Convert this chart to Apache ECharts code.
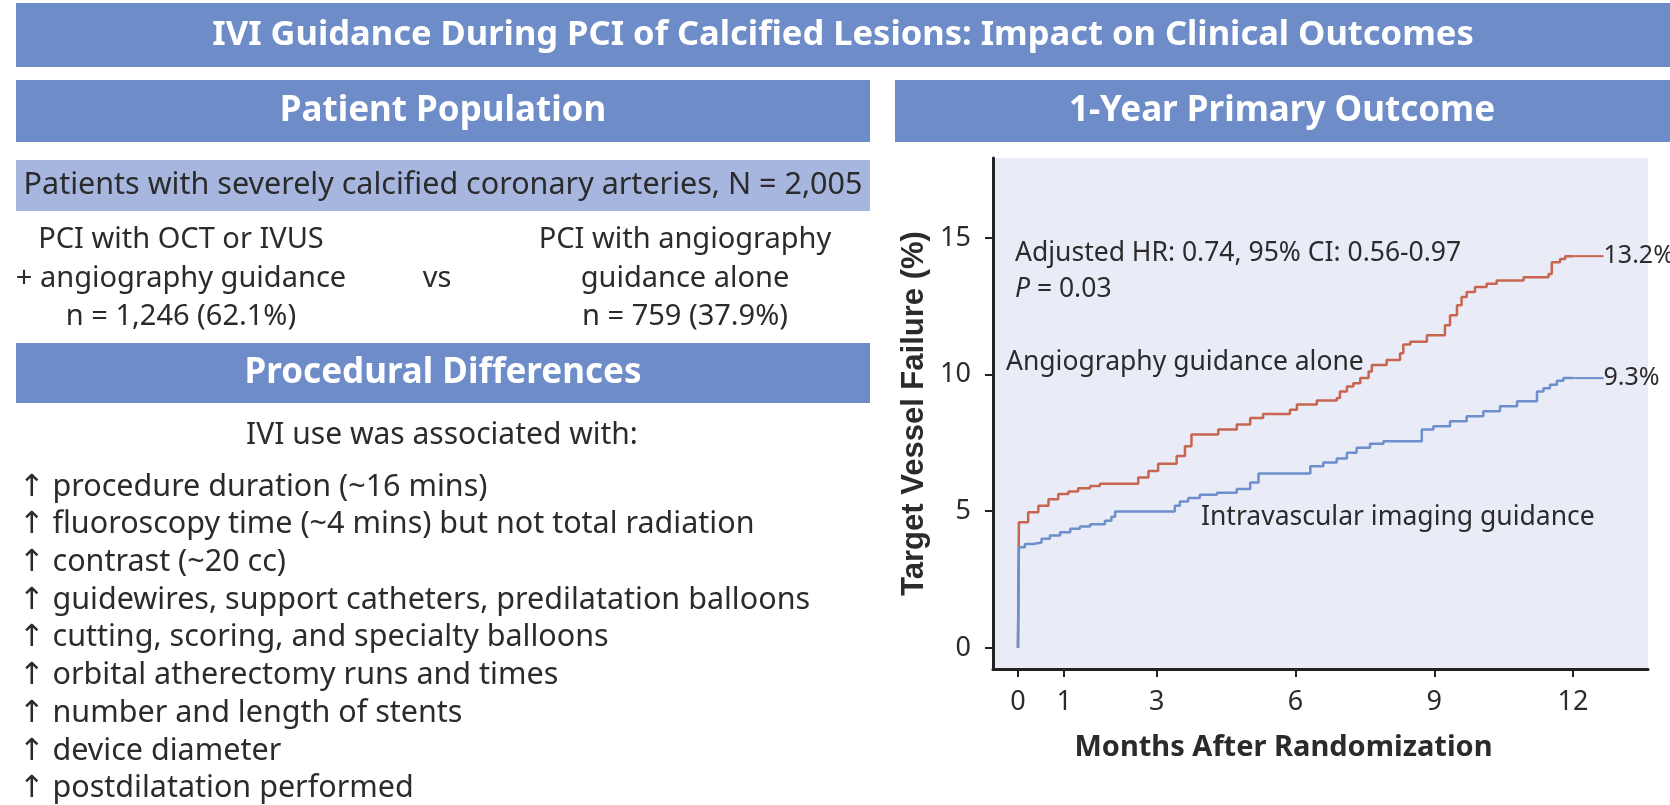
<!DOCTYPE html>
<html>
<head>
<meta charset="utf-8">
<title>IVI Guidance During PCI of Calcified Lesions</title>
<script src="https://cdn.jsdelivr.net/npm/echarts@6/dist/echarts.min.js"></script>
<style>
  html, body { margin: 0; padding: 0; background: #fff; }
  #main { width: 1670px; height: 805px; }
</style>
</head>
<body>
<div id="main"></div>
<script>
// ---- data ----
const monthTicks = [0, 1, 3, 6, 9, 12]
const failTicks = [0, 5, 10, 15]

// angiography guidance alone [month, % failure]
const angioData = [
  [0, 0], [0.02, 4.6], [0.22, 4.96], [0.44, 5.2], [0.66, 5.44], [0.87, 5.63],
  [1.09, 5.72], [1.3, 5.84], [1.56, 5.92], [1.77, 6.01], [2.6, 6.23], [2.82, 6.47],
  [3.03, 6.74], [3.43, 7.02], [3.61, 7.38], [3.75, 7.81], [4.33, 7.99], [4.73, 8.17],
  [5.02, 8.41], [5.3, 8.56], [5.88, 8.71], [6.03, 8.9], [6.46, 9.05], [6.89, 9.14],
  [6.96, 9.38], [7.11, 9.56], [7.25, 9.68], [7.4, 9.87], [7.58, 10.11], [7.65, 10.35],
  [7.97, 10.53], [8.26, 10.78], [8.33, 11.1], [8.48, 11.2], [8.84, 11.44], [9.23, 11.8],
  [9.34, 12.17], [9.49, 12.53], [9.59, 12.84], [9.7, 13.02], [9.88, 13.2], [10.13, 13.32],
  [10.35, 13.44], [10.93, 13.56], [11.47, 13.68], [11.54, 14.11], [11.72, 14.23],
  [11.83, 14.33], [12.01, 14.33]
]

// intravascular imaging guidance
const iviData = [
  [0, 0], [0.02, 3.68], [0.15, 3.8], [0.33, 3.86], [0.51, 3.99], [0.69, 4.11],
  [0.91, 4.23], [1.13, 4.36], [1.34, 4.44], [1.56, 4.52], [1.88, 4.65], [2.02, 4.8],
  [2.1, 4.99], [3.39, 5.2], [3.5, 5.36], [3.68, 5.48], [3.93, 5.6], [4.3, 5.68],
  [4.73, 5.81], [5.02, 6.05], [5.2, 6.38], [6.32, 6.65], [6.6, 6.78], [6.89, 6.93],
  [7.11, 7.14], [7.32, 7.32], [7.61, 7.47], [7.9, 7.56], [8.73, 7.99], [8.98, 8.11],
  [9.34, 8.29], [9.7, 8.47], [10.06, 8.66], [10.42, 8.84], [10.79, 9.02], [11.22, 9.38],
  [11.36, 9.5], [11.5, 9.63], [11.65, 9.77], [11.79, 9.87], [12.01, 9.87]
]

const angioEnd = '13.2%'
const iviEnd = '9.3%'

const listItems = [
  'procedure duration (~16 mins)',
  'fluoroscopy time (~4 mins) but not total radiation',
  'contrast (~20 cc)',
  'guidewires, support catheters, predilatation balloons',
  'cutting, scoring, and specialty balloons',
  'orbital atherectomy runs and times',
  'number and length of stents',
  'device diameter',
  'postdilatation performed'
]

const RED = '#c8654f'
const BLUE = '#6d8fcc'
const BAR = '#6e8dc8'
const TXT = '#2b2b2b'
const FONT = '"Noto Sans", "DejaVu Sans", sans-serif'

// panels and text, drawn as graphic elements
function rect (x, y, w, h, color) {
  return { type: 'rect', shape: { x: x, y: y, width: w, height: h }, style: { fill: color }, silent: true }
}
function text (str, x, y, size, opt) {
  opt = opt || {}
  return {
    type: 'text', x: x, y: y, silent: true,
    style: {
      text: str,
      fill: opt.color || TXT,
      fontSize: size,
      fontFamily: opt.family || FONT,
      fontWeight: opt.bold ? 'bold' : 'normal',
      textAlign: opt.align || 'center',
      textVerticalAlign: 'middle',
      rich: opt.rich
    }
  }
}

const graphics = [
  rect(16, 3, 1654, 64, BAR),
  text('IVI Guidance During PCI of Calcified Lesions: Impact on Clinical Outcomes', 843, 35, 34.5, { bold: true, color: '#fff' }),
  rect(16, 80, 854, 62, BAR),
  text('Patient Population', 443, 111, 35, { bold: true, color: '#fff' }),
  rect(895, 80, 775, 62, BAR),
  text('1-Year Primary Outcome', 1282, 111, 35, { bold: true, color: '#fff' }),
  rect(16, 160, 854, 51, '#a7b6df'),
  text('Patients with severely calcified coronary arteries, N = 2,005', 443, 185, 30.5),
  text('PCI with OCT or IVUS', 181, 240, 29),
  text('+ angiography guidance', 181, 279, 29),
  text('n = 1,246 (62.1%)', 181, 317, 29),
  text('vs', 437, 279, 29),
  text('PCI with angiography', 685, 240, 29),
  text('guidance alone', 685, 279, 29),
  text('n = 759 (37.9%)', 685, 317, 29),
  rect(16, 343, 854, 60, BAR),
  text('Procedural Differences', 443, 373, 35, { bold: true, color: '#fff' }),
  text('IVI use was associated with:', 442, 435, 30)
]
listItems.forEach(function (item, i) {
  graphics.push(text('↑ ' + item, 19, 487 + i * 37.7, 30.5, { align: 'left' }))
})
// annotations inside the plot
graphics.push(text('Adjusted HR: 0.74, 95% CI: 0.56-0.97', 1015, 253, 26.5, { align: 'left' }))
graphics.push(text('{i|P} = 0.03', 1015, 289, 26.5, {
  align: 'left',
  rich: { i: { fontStyle: 'italic', fontSize: 26.5, fontFamily: FONT, fill: TXT } }
}))
graphics.push(text('Angiography guidance alone', 1006, 362, 26.5, { align: 'left' }))
graphics.push(text('Intravascular imaging guidance', 1201, 517, 26.5, { align: 'left' }))

const chart = echarts.init(document.getElementById('main'))

const option = {
  animation: false,
  textStyle: { fontFamily: FONT },
  grid: {
    left: 993, right: 22, top: 158, bottom: 136,
    show: true, backgroundColor: '#e9ebf6', borderWidth: 0
  },
  xAxis: {
    type: 'value',
    min: -0.54, max: 13.62,
    name: 'Months After Randomization',
    nameLocation: 'middle',
    nameGap: 64,
    nameTextStyle: { fontSize: 29, fontWeight: 'bold', color: TXT, fontFamily: FONT, padding: [0, 74, 0, 0] },
    axisLine: { onZero: false, lineStyle: { color: '#222', width: 3 } },
    axisTick: { customValues: monthTicks, length: 8, lineStyle: { color: '#222', width: 2 } },
    axisLabel: { customValues: monthTicks, fontSize: 27, color: TXT, margin: 20 },
    splitLine: { show: false }
  },
  yAxis: {
    type: 'value',
    min: -0.77, max: 17.92,
    name: 'Target Vessel Failure (%)',
    nameLocation: 'middle',
    nameRotate: 90,
    nameGap: 63,
    nameTextStyle: { fontSize: 31, fontWeight: 'bold', color: TXT, fontFamily: '"Liberation Sans", Arial, sans-serif' },
    axisLine: { show: true, onZero: false, lineStyle: { color: '#222', width: 3 } },
    axisTick: { show: true, customValues: failTicks, length: 8, lineStyle: { color: '#222', width: 2 } },
    axisLabel: { customValues: failTicks, fontSize: 27, color: TXT, margin: 22 },
    splitLine: { show: false }
  },
  series: [
    {
      name: 'Angiography guidance alone',
      type: 'line',
      step: 'end',
      data: angioData,
      showSymbol: false,
      lineStyle: { color: RED, width: 2.5 },
      itemStyle: { color: RED },
      endLabel: {
        show: true,
        distance: 0,
        formatter: '{d|}' + angioEnd,
        fontSize: 25,
        color: TXT,
        rich: { d: { width: 30, height: 2, backgroundColor: RED } }
      }
    },
    {
      name: 'Intravascular imaging guidance',
      type: 'line',
      step: 'end',
      data: iviData,
      showSymbol: false,
      lineStyle: { color: BLUE, width: 2.5 },
      itemStyle: { color: BLUE },
      endLabel: {
        show: true,
        distance: 0,
        formatter: '{d|}' + iviEnd,
        fontSize: 25,
        color: TXT,
        rich: { d: { width: 30, height: 2, backgroundColor: BLUE } }
      }
    }
  ],
  graphic: graphics
}

chart.setOption(option)
</script>
</body>
</html>
